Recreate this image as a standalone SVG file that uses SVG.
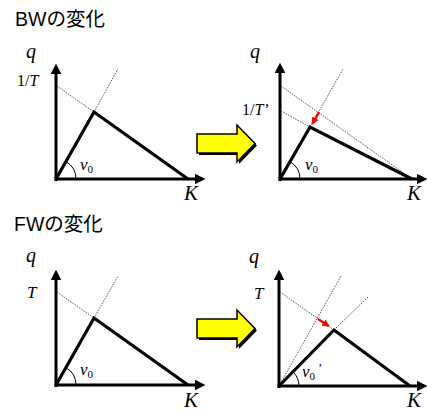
<svg xmlns="http://www.w3.org/2000/svg" width="427" height="412" viewBox="0 0 427 412">
<style>
.title{font-family:"Liberation Sans","Noto Sans CJK JP",sans-serif;font-size:19.5px;fill:#000}
.m{font-family:"Liberation Serif",serif;font-style:italic;fill:#000}
.r{font-family:"Liberation Serif",serif;font-style:normal}
.axis{stroke:#000;stroke-width:3;fill:none;marker-end:url(#ah)}
.tri{stroke:#000;stroke-width:3.2;fill:none;stroke-linejoin:miter}
.dot{stroke:#444;stroke-width:0.9;stroke-dasharray:1.5 1.2;fill:none}
.arc{stroke:#000;stroke-width:1;fill:none}
.red{stroke:#f00;stroke-width:2.5;fill:none;marker-end:url(#rh)}
.yarrow{fill:#ff0;stroke:#000;stroke-width:1.5}
.shadow{fill:#000}
</style>
<defs>
<marker id="ah" viewBox="0 0 10 10" refX="2" refY="5" markerWidth="3.5" markerHeight="3.5" orient="auto" markerUnits="strokeWidth">
<path d="M0,0 L10,5 L0,10 z" fill="#000"/>
</marker>
<marker id="rh" viewBox="0 0 10 10" refX="8" refY="5" markerWidth="3" markerHeight="3" orient="auto" markerUnits="strokeWidth">
<path d="M0,0 L10,5 L0,10 z" fill="#f00"/>
</marker>
</defs>
<rect width="427" height="412" fill="#fff"/>

<g id="title-bw"><text class="title" x="15" y="26">BWの変化</text></g>
<g id="title-fw"><text class="title" x="14" y="231">FWの変化</text></g>

<!-- Top-left panel -->
<g id="panel-bw-before">
<line class="axis" x1="56" y1="181" x2="56" y2="72"/>
<line class="axis" x1="54.5" y1="179" x2="197" y2="179"/>
<line class="dot" x1="57" y1="86" x2="94" y2="112"/>
<line class="dot" x1="94" y1="112" x2="118" y2="69"/>
<polyline class="tri" points="56,179 94,112 188,179"/>
<path class="arc" d="M76,179 A20,20 0 0 0 65.9,161.6"/>
<text class="m" x="26" y="58" font-size="20">q</text>
<text class="m" x="17" y="86" font-size="16"><tspan class="r">1/</tspan>T</text>
<text class="m" x="184" y="200" font-size="21">K</text>
<text class="m" x="80" y="170" font-size="17">v<tspan class="r" font-size="11" dy="3">0</tspan></text>
</g>

<!-- Top arrow -->
<g id="arrow-bw">
<polygon class="shadow" points="199,136 239,136 239,127 257,145.5 239,164 239,155 199,155"/>
<polygon class="yarrow" points="197,134 237,134 237,125 255,143.5 237,162 237,153 197,153"/>
</g>

<!-- Top-right panel -->
<g id="panel-bw-after">
<line class="axis" x1="280" y1="181" x2="280" y2="71"/>
<line class="axis" x1="278.5" y1="179" x2="419" y2="179"/>
<line class="dot" x1="281" y1="86" x2="412" y2="179"/>
<line class="dot" x1="281" y1="111" x2="310" y2="127"/>
<line class="dot" x1="310" y1="127" x2="343" y2="69"/>
<polyline class="tri" points="280,179 310,127 412,179"/>
<path class="arc" d="M300,179 A20,20 0 0 0 290,161.7"/>
<line class="red" x1="319" y1="112" x2="312.5" y2="123.5"/>
<text class="m" x="250" y="58" font-size="20">q</text>
<text class="m" x="242" y="115" font-size="16"><tspan class="r">1/</tspan>T’</text>
<text class="m" x="407" y="200" font-size="21">K</text>
<text class="m" x="305" y="170" font-size="17">v<tspan class="r" font-size="11" dy="3">0</tspan></text>
</g>

<!-- Bottom-left panel -->
<g id="panel-fw-before">
<line class="axis" x1="56" y1="387" x2="56" y2="278"/>
<line class="axis" x1="54.5" y1="385" x2="197" y2="385"/>
<line class="dot" x1="57" y1="292" x2="94" y2="318"/>
<line class="dot" x1="94" y1="318" x2="118" y2="276"/>
<polyline class="tri" points="56,385 94,318 188,385"/>
<path class="arc" d="M76,385 A20,20 0 0 0 65.9,367.6"/>
<text class="m" x="26" y="262" font-size="20">q</text>
<text class="m" x="27" y="298" font-size="17">T</text>
<text class="m" x="184" y="407" font-size="21">K</text>
<text class="m" x="80" y="375" font-size="17">v<tspan class="r" font-size="11" dy="3">0</tspan></text>
</g>

<!-- Bottom arrow -->
<g id="arrow-fw">
<polygon class="shadow" points="199,321 239,321 239,312 257,330.5 239,349 239,340 199,340"/>
<polygon class="yarrow" points="197,319 237,319 237,310 255,328.5 237,347 237,338 197,338"/>
</g>

<!-- Bottom-right panel -->
<g id="panel-fw-after">
<line class="axis" x1="279" y1="388" x2="279" y2="278"/>
<line class="axis" x1="277.5" y1="386" x2="419" y2="386"/>
<line class="dot" x1="280" y1="292" x2="334" y2="330"/>
<line class="dot" x1="279" y1="386" x2="341" y2="276"/>
<line class="dot" x1="334" y1="330" x2="369" y2="296"/>
<polyline class="tri" points="279,386 334,330 410,386"/>
<path class="arc" d="M299,386 A20,20 0 0 0 293.1,371.9"/>
<line class="red" x1="318" y1="319" x2="328.5" y2="326"/>
<text class="m" x="249" y="263" font-size="20">q</text>
<text class="m" x="254" y="299" font-size="17">T</text>
<text class="m" x="407" y="407" font-size="21">K</text>
<text class="m" x="302" y="377" font-size="17">v<tspan class="r" font-size="11" dy="3">0</tspan><tspan class="r" font-size="13" dy="-8" dx="3">’</tspan></text>
</g>
</svg>
